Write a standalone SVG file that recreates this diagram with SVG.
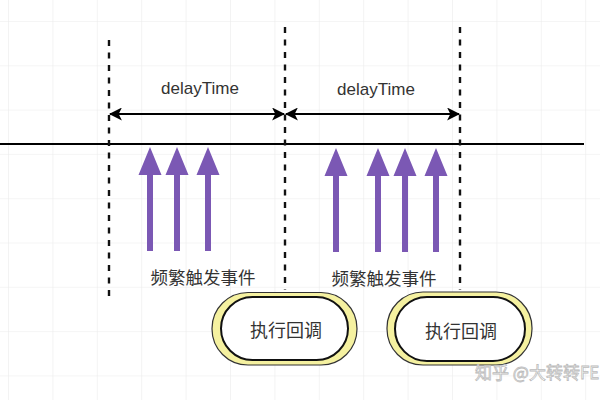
<svg xmlns="http://www.w3.org/2000/svg" width="600" height="400" viewBox="0 0 600 400">
<style>
.dash{stroke:#111;stroke-width:2.4;stroke-dasharray:6 6.5;fill:none}
.lbl{font-family:"Liberation Sans","Noto Sans CJK SC",Arial,sans-serif;fill:#333;text-anchor:middle}
.cjk{font-family:"Noto Sans CJK SC","Liberation Sans",sans-serif;fill:#333;text-anchor:middle}
.outer{fill:#f5f1a0;stroke:#333;stroke-width:1.2}
.inner{fill:#fff;stroke:#111;stroke-width:2}
.parrow{fill:#7b58b4}
.dbl{stroke:#000;stroke-width:2;fill:none;marker-start:url(#ah);marker-end:url(#ah)}
</style>
<defs>
<pattern id="grid" x="8" y="21" width="44.4" height="44.3" patternUnits="userSpaceOnUse">
<path d="M0 0V44.3M0 0H44.4" stroke="#ebebeb" stroke-width="1.2" fill="none"/>
</pattern>
<marker id="ah" viewBox="0 0 12 12" refX="11" refY="6" markerWidth="13" markerHeight="13" markerUnits="userSpaceOnUse" orient="auto-start-reverse">
<path d="M0 0L12 6L0 12L3 6Z" fill="#000"/>
</marker>
<path id="pa" class="parrow" d="M0 0L11.5 28L3 28L3 104L-3 104L-3 28L-11.5 28Z"/>
</defs>
<rect width="600" height="400" fill="#fff"/>
<rect width="600" height="400" fill="url(#grid)"/>

<g id="connectors">
<line x1="0" y1="144" x2="584" y2="144" stroke="#000" stroke-width="2.2"/>
<line class="dash" x1="109" y1="40" x2="109" y2="298"/>
<line class="dash" x1="285" y1="27" x2="285" y2="290"/>
<line class="dash" x1="460" y1="27" x2="460" y2="290"/>
<line class="dbl" x1="110" y1="114" x2="284" y2="114"/>
<line class="dbl" x1="286" y1="114" x2="459" y2="114"/>
<use href="#pa" x="150" y="147"/>
<use href="#pa" x="177" y="147"/>
<use href="#pa" x="208" y="147"/>
<use href="#pa" x="336" y="148"/>
<use href="#pa" x="378" y="148"/>
<use href="#pa" x="405" y="148"/>
<use href="#pa" x="436" y="148"/>
</g>

<g id="label-delay1"><text class="lbl" x="200" y="94" font-size="17">delayTime</text></g>
<g id="label-delay2"><text class="lbl" x="376" y="95" font-size="17">delayTime</text></g>
<g id="label-events1"><text class="cjk" x="203" y="284" font-size="17.5">频繁触发事件</text></g>
<g id="label-events2"><text class="cjk" x="384" y="285" font-size="17.5">频繁触发事件</text></g>

<g id="node-callback1">
<rect class="outer" x="212" y="292.5" width="145" height="72.5" rx="36"/>
<rect class="inner" x="221" y="297" width="127" height="63" rx="31.5"/>
<text class="cjk" x="286" y="337" font-size="18">执行回调</text>
</g>
<g id="node-callback2">
<rect class="outer" x="387" y="292" width="145" height="73" rx="36"/>
<rect class="inner" x="395" y="297" width="130" height="64" rx="32"/>
<text class="cjk" x="461" y="338" font-size="18">执行回调</text>
</g>

<g id="watermark"><text x="475" y="379" font-family="Noto Sans CJK SC,sans-serif" font-size="17" fill="#fff" stroke="#bbb" stroke-width="0.8">知乎 @大转转FE</text></g>
</svg>
